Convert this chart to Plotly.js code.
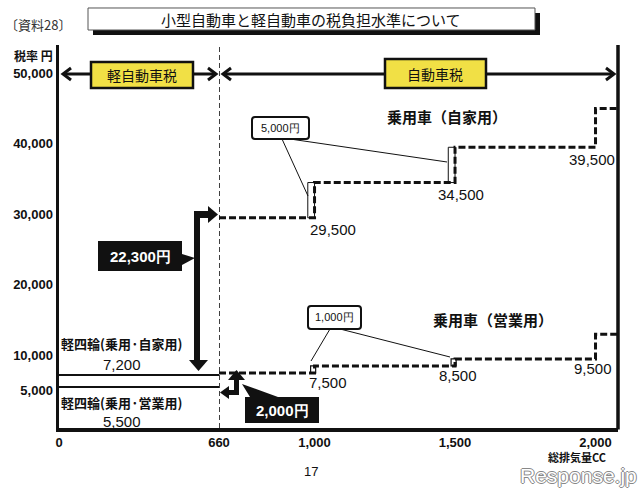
<!DOCTYPE html>
<html><head><meta charset="utf-8">
<script src="https://cdn.plot.ly/plotly-3.0.1.min.js"></script>
<style>html,body{margin:0;padding:0;background:#fff}#chart{width:640px;height:489px}</style>
</head><body><div id="chart"></div>
<script>
// ---- data ----
const keiNames = ['軽四輪(乗用·自家用)', '軽四輪(乗用·営業用)'];
const keiTax = [7200, 5500];
const keiCC = [0, 660];
const carCC = [660, 1000, 1500, 2000, 2080];
const privateTax = [29500, 34500, 39500, 45000, 45000];
const businessTax = [7500, 8500, 9500, 13000, 13000];
const privateLabels = ['29,500', '34,500', '39,500'];
const businessLabels = ['7,500', '8,500', '9,500'];
const keiLabels = ['7,200', '5,500'];
const yTickVals = [5000, 10000, 20000, 30000, 40000, 50000];
const yTickText = ['5,000', '10,000', '20,000', '30,000', '40,000', '50,000'];
const xTickVals1 = [0, 660];
const xTickText1 = ['0', '660'];
const xTickVals2 = [1000, 1500, 2000];
const xTickText2 = ['1,000', '1,500', '2,000'];
const diffPrivate = '22,300円';
const diffBusiness = '2,000円';
const stepPrivate = '5,000円';
const stepBusiness = '1,000円';

// ---- geometry helpers (decorations only) ----
const L = 59, R = 618, T = 45, B = 428;
const X = px => (px - L) / (R - L);
const Y = py => (B - py) / (B - T);
function pth(cmds) {
  return cmds.map(c => {
    const a = c.slice(1); let s = c[0];
    for (let i = 0; i < a.length; i += 2) s += (i ? ' ' : '') + X(a[i]).toFixed(5) + ',' + Y(a[i + 1]).toFixed(5);
    return s;
  }).join(' ');
}
function poly(pts, fill, lw, lc) {
  const cmds = pts.map((p, i) => [i ? 'L' : 'M', p[0], p[1]]); cmds.push(['Z']);
  return {type: 'path', xref: 'paper', yref: 'paper', path: pth(cmds), fillcolor: fill || 'rgba(0,0,0,0)',
          line: {width: lw === undefined ? 0 : lw, color: lc || '#111'}, layer: 'above'};
}
function pline(pts, lw, lc, dash) {
  const cmds = pts.map((p, i) => [i ? 'L' : 'M', p[0], p[1]]);
  return {type: 'path', xref: 'paper', yref: 'paper', path: pth(cmds),
          line: {width: lw, color: lc || '#111', dash: dash || 'solid'}, layer: 'above'};
}
function rrect(x0, y0, x1, y1, r, fill, lw) {
  const cmds = [['M', x0 + r, y0], ['L', x1 - r, y0], ['Q', x1, y0, x1, y0 + r], ['L', x1, y1 - r], ['Q', x1, y1, x1 - r, y1],
    ['L', x0 + r, y1], ['Q', x0, y1, x0, y1 - r], ['L', x0, y0 + r], ['Q', x0, y0, x0 + r, y0], ['Z']];
  return {type: 'path', xref: 'paper', yref: 'paper', path: pth(cmds), fillcolor: fill, line: {width: lw, color: '#111'}, layer: 'above'};
}
function ann(text, px, py, font, extra) {
  return Object.assign({xref: 'paper', yref: 'paper', x: X(px), y: Y(py), text: text, showarrow: false,
    xanchor: 'center', yanchor: 'middle', font: font}, extra || {});
}
const JP = '"Noto Sans CJK JP", sans-serif';
const NUM = '"Liberation Sans Narrow", "Liberation Sans", Arial, sans-serif';
const NUMB = '"Liberation Sans", Arial, sans-serif';
const INK = '#111';

// ---- traces ----
const traces = [
  {x: keiCC, y: [keiTax[0], keiTax[0]], xaxis: 'x', yaxis: 'y', mode: 'lines', line: {color: INK, width: 2}, name: keiNames[0]},
  {x: keiCC, y: [keiTax[1], keiTax[1]], xaxis: 'x', yaxis: 'y', mode: 'lines', line: {color: INK, width: 2}, name: keiNames[1]},
  {x: carCC, y: privateTax, xaxis: 'x2', yaxis: 'y', mode: 'lines', line: {color: INK, width: 3, dash: '7px,3px', shape: 'hv'}, name: '乗用車（自家用）'},
  {x: carCC, y: businessTax, xaxis: 'x2', yaxis: 'y', mode: 'lines', line: {color: INK, width: 3, dash: '7px,3px', shape: 'hv'}, name: '乗用車（営業用）'}
];

// ---- shapes ----
const YEL = '#f1e045';
const shapes = [
  {type: 'line', xref: 'paper', yref: 'paper', x0: 1, x1: 1, y0: -0.004, y1: 1, line: {width: 3.5, color: INK}},
  {type: 'line', xref: 'x2', yref: 'paper', x0: 660, x1: 660, y0: 0, y1: 1, line: {width: 1.6, color: INK, dash: '5px,3px'}},
  poly([[93, 13], [540, 13], [540, 35], [93, 35]], '#111', 0),
  poly([[88, 8], [535, 8], [535, 30], [88, 30]], '#fff', 1, '#555'),
  pline([[63, 74], [216, 74]], 3),
  pline([[71, 68], [63, 74], [71, 80]], 3),
  pline([[208, 68], [216, 74], [208, 80]], 3),
  pline([[223, 74], [614, 74]], 3),
  pline([[231, 68], [223, 74], [231, 80]], 3),
  pline([[606, 68], [614, 74], [606, 80]], 3),
  poly([[91, 62], [193, 62], [193, 88], [91, 88]], YEL, 2.5),
  poly([[385, 59], [486, 59], [486, 88], [385, 88]], YEL, 2.5),
  {type: 'rect', xref: 'x2', yref: 'y', x0: carCC[1] - 24, x1: carCC[1], y0: privateTax[0], y1: privateTax[1], line: {width: 1, color: INK}, fillcolor: 'rgba(0,0,0,0)'},
  {type: 'rect', xref: 'x2', yref: 'y', x0: carCC[2] - 24, x1: carCC[2], y0: privateTax[1], y1: privateTax[2], line: {width: 1, color: INK}, fillcolor: 'rgba(0,0,0,0)'},
  {type: 'rect', xref: 'x2', yref: 'y', x0: carCC[1] - 14, x1: carCC[1] + 4, y0: businessTax[0], y1: businessTax[1], line: {width: 1.2, color: INK}, fillcolor: 'rgba(0,0,0,0)'},
  {type: 'rect', xref: 'x2', yref: 'y', x0: carCC[2] - 14, x1: carCC[2] + 4, y0: businessTax[1], y1: businessTax[2], line: {width: 1.2, color: INK}, fillcolor: 'rgba(0,0,0,0)'},
  pline([[282, 139], [308, 196]], 1),
  pline([[290, 139], [447, 162]], 1),
  rrect(252, 117, 309, 139, 3, '#fff', 2),
  pline([[330, 329], [311, 361]], 1),
  pline([[340, 329], [450, 357]], 1),
  rrect(308, 306, 361, 329, 3, '#fff', 2),
  poly([[194, 362], [200, 362], [200, 218], [209, 218], [209, 211], [194, 211]], INK, 0),
  poly([[208, 206], [218, 214.5], [208, 223]], INK, 0),
  poly([[189, 360], [208, 360], [198.5, 371]], INK, 0),
  poly([[98, 241], [182, 241], [182, 254], [195, 258], [182, 265], [182, 271], [98, 271]], INK, 0),
  poly([[227, 390], [234, 390], [234, 379], [239, 379], [239, 395], [227, 395]], INK, 0),
  poly([[220, 392.5], [229, 386], [229, 399]], INK, 0),
  poly([[228, 380], [245, 380], [236.5, 370]], INK, 0),
  poly([[245, 397], [250, 397], [242, 384], [278, 397], [319, 397], [319, 423], [245, 423]], INK, 0)
];

// ---- annotations ----
const annotations = [
  ann('小型自動車と軽自動車の税負担水準について', 311, 19, {family: JP, size: 15, color: INK}),
  ann('〔資料28〕', 38, 25, {family: JP, size: 13, color: '#333'}),
  ann('<b>税率 円</b>', 33, 55, {family: JP, size: 12, color: INK}),
  ann('軽自動車税', 142, 75, {family: JP, size: 14, color: INK}),
  ann('自動車税', 435, 74, {family: JP, size: 14, color: INK}),
  ann('<b>乗用車（自家用）</b>', 447, 116, {family: JP, size: 15, color: INK}),
  ann('<b>乗用車（営業用）</b>', 493, 319, {family: JP, size: 15, color: INK}),
  ann(stepPrivate, 280, 128, {family: NUM, size: 11, color: INK}),
  ann(stepBusiness, 334, 317, {family: NUM, size: 11, color: INK}),
  ann('<b>' + diffPrivate + '</b>', 140, 256, {family: NUMB, size: 15, color: '#fff'}),
  ann('<b>' + diffBusiness + '</b>', 282, 410, {family: NUMB, size: 15, color: '#fff'}),
  ann('<b>' + keiNames[0] + '</b>', 122, 343, {family: JP, size: 13, color: INK}),
  ann(keiLabels[0], 122, 364, {family: NUM, size: 15, color: INK}),
  ann('<b>' + keiNames[1] + '</b>', 122, 402, {family: JP, size: 13, color: INK}),
  ann(keiLabels[1], 122, 421, {family: NUM, size: 15, color: INK}),
  ann('<b>総排気量CC</b>', 577, 457, {family: JP, size: 11, color: INK}),
  ann('17', 311, 471, {family: NUMB, size: 13, color: INK}),
  ann('Response.jp', 578, 475, {family: NUMB, size: 21, color: '#ffffff',
      shadow: '1px 0 0 #888, -1px 0 0 #888, 0 1px 0 #888, 0 -1px 0 #888'})
];
const pShift = [18, 6, -4], bShift = [13, 3, -3];
privateLabels.forEach((t, i) => annotations.push({xref: 'x2', yref: 'y', x: carCC[i + 1], y: privateTax[i], text: t, showarrow: false,
  xanchor: 'center', yanchor: 'middle', xshift: pShift[i], yshift: -12, font: {family: NUM, size: 15, color: INK}}));
businessLabels.forEach((t, i) => annotations.push({xref: 'x2', yref: 'y', x: carCC[i + 1], y: businessTax[i], text: t, showarrow: false,
  xanchor: 'center', yanchor: 'middle', xshift: bShift[i], yshift: -10, font: {family: NUM, size: 15, color: INK}}));

const tickFont = {family: NUMB, size: 13, color: INK, weight: 700};
const axBase = {showline: true, linewidth: 3.5, linecolor: INK, showgrid: false, zeroline: false, ticks: '', tickfont: tickFont, fixedrange: true};
const layout = {
  width: 640, height: 489,
  margin: {l: L, r: 640 - R, t: T, b: 489 - B, pad: 0},
  paper_bgcolor: '#fff', plot_bgcolor: '#fff',
  showlegend: false, hovermode: false,
  xaxis: Object.assign({}, axBase, {domain: [0, X(219)], range: [0, 660], tickvals: xTickVals1, ticktext: xTickText1, anchor: 'y'}),
  xaxis2: Object.assign({}, axBase, {domain: [X(219), 1], range: [660, 2080], tickvals: xTickVals2, ticktext: xTickText2, anchor: 'y'}),
  yaxis: Object.assign({}, axBase, {range: [-300, 54000], tickvals: yTickVals, ticktext: yTickText, anchor: 'x'}),
  shapes: shapes,
  annotations: annotations
};
Plotly.newPlot('chart', traces, layout, {staticPlot: true, displayModeBar: false});
</script></body></html>
